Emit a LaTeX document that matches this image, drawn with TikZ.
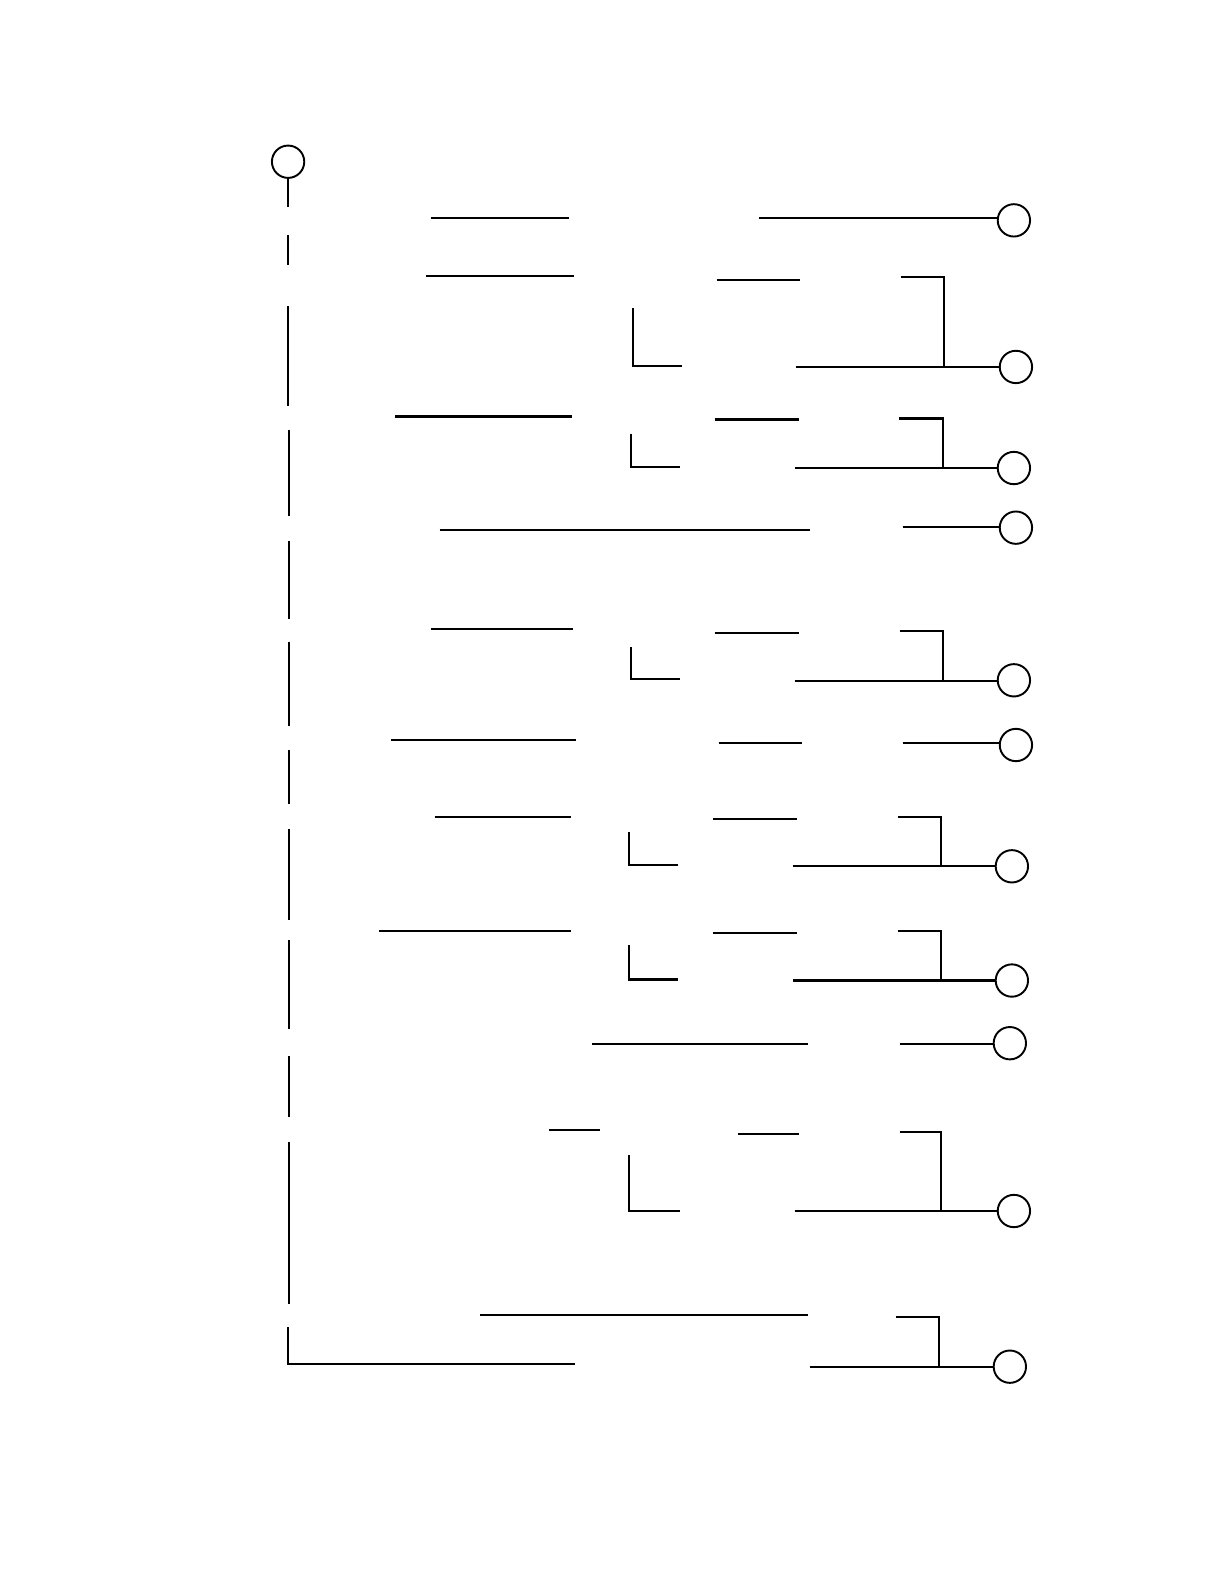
\documentclass[tikz,border=0pt]{standalone}
\begin{document}
\begin{tikzpicture}[x=0.5pt,y=-0.5pt,
  ln/.style={line width=1.05pt,black},
  dot/.style={circle,draw,line width=0.95pt,minimum size=16pt,inner sep=0pt}]
\useasboundingbox (0,0) rectangle (1211,1567);
% circles
\node[dot] (c0) at (285,160) {};
\node[dot] (c1) at (1003,218) {};
\node[dot] (c2) at (1005,363) {};
\node[dot] (c3) at (1003,463) {};
\node[dot] (c4) at (1005,522) {};
\node[dot] (c5) at (1003,673) {};
\node[dot] (c6) at (1005,737) {};
\node[dot] (c7) at (1001,857) {};
\node[dot] (c8) at (1001,970) {};
\node[dot] (c9) at (999,1032) {};
\node[dot] (c10) at (1003,1198) {};
\node[dot] (c11) at (999,1352) {};
% left spine segments
\draw[ln] (c0.south) -- (285,205);
\draw[ln] (285,232) -- (285,262);
\draw[ln] (285,303) -- (285,402);
\draw[ln] (286,425) -- (286,510);
\draw[ln] (286,535) -- (286,612);
\draw[ln] (286,635) -- (286,718);
\draw[ln] (286,742) -- (286,795);
\draw[ln] (286,820) -- (286,910);
\draw[ln] (286,930) -- (286,1018);
\draw[ln] (286,1045) -- (286,1105);
\draw[ln] (286,1130) -- (286,1290);
\draw[ln] (285,1313) -- (285,1349) -- (569,1349);
% left horizontals
\draw[ln] (426,216) -- (563,216);
\draw[ln] (421,273) -- (568,273);
\draw[ln] (391,412) -- (566,412);
\draw[ln] (435,524) -- (801,524);
\draw[ln] (426,622) -- (567,622);
\draw[ln] (387,732) -- (570,732);
\draw[ln] (430,808) -- (565,808);
\draw[ln] (375,921) -- (565,921);
\draw[ln] (586,1033) -- (799,1033);
\draw[ln] (543,1118) -- (594,1118);
\draw[ln] (475,1301) -- (799,1301);
% L shapes
\draw[ln] (626,305) -- (626,362) -- (675,362);
\draw[ln] (624,429) -- (624,462) -- (673,462);
\draw[ln] (624,640) -- (624,672) -- (673,672);
\draw[ln] (622,823) -- (622,856) -- (671,856);
\draw[ln] (622,935) -- (622,969) -- (671,969);
\draw[ln] (622,1143) -- (622,1198) -- (673,1198);
% middle short horizontals
\draw[ln] (709,277) -- (791,277);
\draw[ln] (707,415) -- (790,415);
\draw[ln] (707,626) -- (790,626);
\draw[ln] (711,735) -- (793,735);
\draw[ln] (705,810) -- (788,810);
\draw[ln] (705,923) -- (788,923);
\draw[ln] (730,1122) -- (790,1122);
% right connectors
\draw[ln] (751,216) -- (c1.west|-0,216);
\draw[ln] (891,274) -- (934,274) -- (934,363);
\draw[ln] (787,363) -- (c2.west);
\draw[ln] (889,414) -- (933,414) -- (933,463);
\draw[ln] (786,463) -- (c3.west);
\draw[ln] (893,521) -- (c4.west|-0,521);
\draw[ln] (890,624) -- (933,624) -- (933,674);
\draw[ln] (786,674) -- (c5.west|-0,674);
\draw[ln] (893,735) -- (c6.west|-0,735);
\draw[ln] (888,808) -- (931,808) -- (931,857);
\draw[ln] (784,857) -- (c7.west);
\draw[ln] (888,921) -- (931,921) -- (931,970);
\draw[ln] (784,970) -- (c8.west);
\draw[ln] (890,1033) -- (c9.west|-0,1033);
\draw[ln] (890,1120) -- (931,1120) -- (931,1198);
\draw[ln] (786,1198) -- (c10.west);
\draw[ln] (886,1303) -- (929,1303) -- (929,1352);
\draw[ln] (801,1352) -- (c11.west);
\end{tikzpicture}
\end{document}
